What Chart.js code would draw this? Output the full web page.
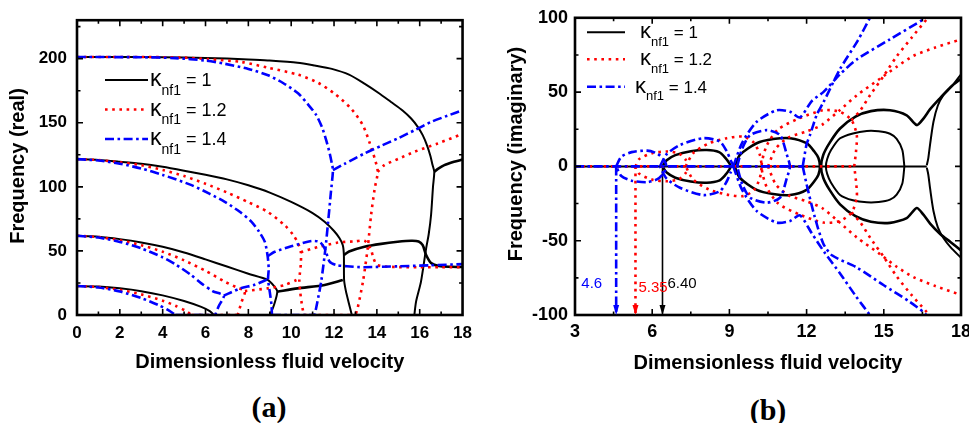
<!DOCTYPE html>
<html>
<head>
<meta charset="utf-8">
<title>Frequency vs fluid velocity</title>
<script src="https://cdn.jsdelivr.net/npm/chart.js@4.4.0/dist/chart.umd.min.js"></script>
<style>
  html, body { margin: 0; padding: 0; background: #fff; }
  #wrap { position: relative; width: 969px; height: 423px; overflow: hidden; }
  canvas { position: absolute; top: 0; }
  #chartA { left: 0; }
  #chartB { left: 490px; }
  .cap { position: absolute; transform: translate(-50%, -50%);
         font: bold 30px "Liberation Serif", "Times New Roman", serif; color: #000; }
</style>
</head>
<body>
<div id="wrap">
  <canvas id="chartA" width="480" height="380"></canvas>
  <canvas id="chartB" width="489" height="380"></canvas>
  <div class="cap" style="left:269px; top:407px;">(a)</div>
  <div class="cap" style="left:768px; top:410px;">(b)</div>
</div>
<script>
// ---------- legend ----------
const legendKappa = ['1', '1.2', '1.4'];

// ---------- panel (a): real part, [velocity, frequency] ----------
const aBlackMode1 = [[0,22.6],[1,22.2],[2,20.8],[3,18.6],[4,15.3],[5,10.9],[5.8,6.3],[6.2,3],[6.4,0]];
const aBlackMode2 = [[0,61.8],[1,61.1],[2,59.2],[3,56.6],[4,53.2],[5,48.8],[6,43.4],[7,37.8],[8,32.2],[8.9,27.4],[9.2,22.5],[9.35,18.2],[9.22,9],[9.02,0]];
const aBlackCouple = [[9.35,18.2],[10.3,20.8],[11.56,23.4],[12.41,27.3]];
const aBlackMode3 = [[0,121.6],[1,121],[2,119.6],[3,118],[4,115.6],[5,112.6],[6,109.4],[7,105.8],[8,101.2],[9,95.5],[10,88.2],[11,79.5],[11.56,72.7],[12.0,65.5],[12.25,60],[12.41,54.5],[12.46,46.8],[12.47,27.3],[12.55,19],[12.68,10],[12.83,0]];
const aBlackHump = [[12.46,46.8],[12.7,49.5],[13.42,53.2],[14.2,55.5],[14.97,57.1],[15.6,57.9],[15.95,57.4],[16.14,54.5],[16.3,46.8],[16.53,40.6],[16.9,38.2],[17.5,37.6],[18,37.4]];
const aBlackMode4 = [[0,201.3],[2,201.3],[4,201.1],[6,200.6],[7,200.1],[8,199.4],[8.9,198.6],[10.3,196.8],[11.1,194.6],[11.9,192],[12.7,187.5],[13.42,180.5],[14.1,173],[14.66,166.2],[15.2,159.6],[15.6,153.3],[15.9,147],[16.14,140.3],[16.35,132],[16.5,124],[16.6,117],[16.68,111.7],[16.62,100],[16.53,78],[16.42,63],[16.3,52],[16.06,26],[15.83,10.4],[15.75,0]];
const aBlackRise = [[16.68,111.7],[16.85,114],[17.15,116.9],[17.6,119.5],[18,121.3]];

const aRedMode1 = [[0,22.6],[1,21.8],[2,19.6],[3,16.1],[4,11.2],[4.6,7.2],[5.05,3.5],[5.35,0]];
const aRedZero1 = [[5.35,0],[7.5,0]];
const aRedZero2 = [[10.6,0],[13.0,0]];
const aRedMode2 = [[0,61.8],[1,60.8],[2,58.3],[3,54.5],[4,49.4],[5,42.6],[6,34.5],[6.9,26],[7.5,21.2],[7.84,18.7],[7.68,10],[7.5,0]];
const aRedCouple = [[7.84,18.7],[8.9,20.8],[9.7,23.4],[10.25,27.3]];
const aRedMode3 = [[0,121.6],[1,120.9],[2,119.2],[3,116.9],[4,113.2],[5,108.4],[6,102.4],[7,95.6],[8,88],[8.9,80.5],[9.7,70],[10.1,62.3],[10.32,56],[10.45,49],[10.45,40],[10.38,27.3],[10.42,18],[10.52,6],[10.6,0]];
const aRedHump = [[10.45,49],[11.25,53],[12.18,56.5],[13.0,57.5],[13.42,58],[13.7,52],[13.85,44],[14.0,39.2],[14.4,37.8],[15,37.4],[16,37.3],[17,37.3],[18,37.4]];
const aRedMode4 = [[0,201.3],[3,201.3],[5,200.8],[6.1,199.6],[7.68,197.4],[8.9,193],[10.32,187.5],[11.25,181.2],[12.02,172.7],[12.8,161],[13.35,148],[13.65,135],[13.9,122],[14.04,111.7],[13.9,98.7],[13.73,78],[13.57,52],[13.35,26],[13.1,5.2],[13.0,0]];
const aRedRise = [[14.04,111.7],[14.35,116.9],[15.0,121.8],[15.75,127.3],[16.84,133.8],[18,141.3]];

const aBlueMode1 = [[0,22.6],[1,21.5],[2,18.4],[3,13.2],[3.8,7.8],[4.3,3.4],[4.6,0]];
const aBlueZero1 = [[4.6,0],[6.45,0]];
const aBlueZero2 = [[9.1,0],[11.1,0]];
const aBlueMode2 = [[0,61.8],[1,60.4],[2,57],[3,52],[4,45],[4.6,39.5],[5.3,31.5],[5.82,24.5],[6.35,18.5],[6.85,15],[6.62,7],[6.45,0]];
const aBlueCouple = [[6.85,15],[7.6,20.6],[8.3,23.6],[8.92,28]];
const aBlueMode3 = [[0,121.6],[1,120.5],[2,118],[3,114.3],[4,109.3],[5.35,101.3],[6.2,94.5],[6.9,88.3],[7.6,80.5],[8.15,72.7],[8.5,65],[8.77,57],[8.9,46],[8.95,36],[8.92,28],[9.0,18],[9.08,8],[9.1,0]];
const aBlueHump = [[8.92,46],[9.23,49.3],[10,53.6],[10.94,57.7],[11.33,57],[11.56,52],[11.8,41.5],[12.1,39],[12.6,38],[13.4,37.3],[15,38],[16.5,38.8],[18,39.7]];
const aBlueMode4 = [[0,201.3],[3,201.1],[4.58,200.4],[6,198.5],[6.9,196],[8,192],[8.92,187],[9.62,181],[10.32,173],[10.8,164],[11.17,156],[11.45,146],[11.64,136],[11.8,126],[11.9,118],[11.95,113],[11.85,95],[11.72,72],[11.6,52],[11.4,26],[11.22,10],[11.1,0]];
const aBlueRise = [[11.95,113],[12.5,118],[13.42,126],[14.2,132],[14.97,137.7],[15.8,144.5],[16.53,150.6],[17.3,155.5],[18,159.7]];

// ---------- panel (b): imaginary part, [velocity, frequency] ----------
const bBlackZero = [[3,0],[16.67,0]];
const bBlackLoop1 = [[6.4,0],[6.55,4],[6.9,7.6],[7.5,10.2],[8.12,11],[8.6,9.6],[8.85,5.6],[9.0,2],[9.05,0],[9.0,-2],[8.85,-5.6],[8.6,-9.6],[8.12,-11],[7.5,-10.2],[6.9,-7.6],[6.55,-4],[6.4,0]];
const bBlackLoop2 = [[9.2,0],[9.41,7.8],[10.06,15.6],[10.7,18.4],[11.36,19],[12.0,15.6],[12.3,10],[12.46,5.6],[12.52,0],[12.46,-5.6],[12.3,-10],[12.0,-15.8],[11.36,-19.3],[10.7,-18.6],[10.06,-15.8],[9.41,-7.8],[9.2,0]];
const bBlackOuter = [[18,59],[17.6,53.5],[17.19,46],[16.8,38.5],[16.54,32.2],[16.28,27.8],[15.89,34.4],[15.24,37.8],[14.5,37.2],[13.9,33.5],[13.3,25.5],[12.9,16],[12.65,7.8],[12.56,0],[12.65,-7.8],[12.9,-16],[13.3,-25.5],[13.9,-33.5],[14.5,-37.2],[15.24,-38],[15.89,-34.8],[16.28,-28],[16.54,-32.5],[16.8,-38.5],[17.19,-45.5],[17.6,-51],[18,-56.5]];
const bBlackInner = [[15.8,0],[15.72,11],[15.5,18.5],[15.24,22],[14.8,23.6],[14.34,23.8],[13.8,22.2],[13.3,18.9],[12.95,11],[12.8,5],[12.75,0],[12.8,-5],[12.95,-11],[13.3,-19.2],[13.8,-22.8],[14.34,-24.2],[14.8,-24],[15.24,-22.4],[15.5,-19],[15.72,-11.5],[15.8,0]];
const bBlackRiseUp = [[16.67,0.8],[16.73,5.6],[16.8,15],[16.93,30],[17.1,41],[17.31,47.8],[17.6,53],[18,62]];
const bBlackRiseDown = [[16.67,-0.8],[16.73,-5.6],[16.8,-15],[16.93,-30],[17.1,-41],[17.31,-48],[17.6,-54.5],[18,-61.5]];

const bRedZero = [[3,0],[13.85,0]];
const bRedLoop1 = [[5.35,0],[5.5,5],[6.0,8.9],[6.6,10],[7.05,8.6],[7.3,4.5],[7.4,0],[7.3,-4.5],[7.05,-8.6],[6.6,-10],[6.0,-8.9],[5.5,-5],[5.35,0]];
const bRedLoop2 = [[7.3,0],[7.6,9],[8.2,15.5],[8.9,19],[9.54,20],[9.95,16],[10.18,8],[10.25,0],[10.18,-8],[9.95,-16],[9.54,-20],[8.9,-19],[8.2,-15.5],[7.6,-9],[7.3,0]];
const bRedOuter = [[13.85,0],[13.92,10],[13.95,21],[13.75,31],[13.3,36.7],[12.65,37.8],[11.74,32.5],[10.9,25],[10.45,14],[10.25,0],[10.45,-14],[10.9,-25],[11.74,-32.5],[12.65,-37.8],[13.3,-36.7],[13.75,-31],[13.95,-21],[13.92,-10],[13.85,0]];
const bRedRiseUp = [[13.75,31],[14.1,38],[14.47,48],[15.0,61],[15.5,74],[16.1,87],[16.67,99],[16.75,100]];
const bRedRiseDown = [[13.75,-31],[14.1,-38],[14.47,-48],[15.0,-61],[15.5,-74],[16.1,-87],[16.67,-98],[16.75,-100]];
const bRedInnerUp = [[10.5,0],[10.8,12],[11.3,19.5],[12.0,23.5],[12.6,28],[13.3,38],[13.95,47.8],[14.85,59],[15.5,67],[16.15,74.4],[17,80],[18,85.5]];
const bRedInnerDown = [[10.5,0],[10.8,-12],[11.3,-19.5],[12.0,-23.5],[12.6,-28],[13.3,-38],[13.95,-47.8],[14.85,-59],[15.5,-67.5],[16.15,-74.5],[17,-80.5],[18,-86.5]];

const bBlueZero = [[3,0],[11.85,0]];
const bBlueLoop1 = [[4.6,0],[4.8,6.5],[5.2,9.6],[5.8,10.6],[6.2,8.6],[6.45,4.5],[6.55,0],[6.45,-4.5],[6.2,-8.6],[5.8,-10.6],[5.2,-9.6],[4.8,-6.5],[4.6,0]];
const bBlueLoop2 = [[6.3,0],[6.55,8],[7.08,14.4],[7.99,19],[8.63,16.7],[8.9,10],[9.05,4],[9.15,0],[9.05,-4],[8.9,-10],[8.63,-16.7],[7.99,-19.3],[7.08,-14.4],[6.55,-8],[6.3,0]];
const bBlueInner = [[9.3,0],[9.5,12],[9.8,21],[10.45,24.4],[10.97,21],[11.23,8],[11.35,0],[11.23,-8],[10.97,-21],[10.45,-24.4],[9.8,-21],[9.5,-12],[9.3,0]];
const bBlueOuterUp = [[9.15,0],[9.5,16],[10.06,30],[10.84,37.8],[11.36,36.7],[11.74,33],[12.2,44],[12.65,50],[13.3,62],[13.95,72],[15.24,85.5],[16.54,99],[16.6,100]];
const bBlueOuterDown = [[9.15,0],[9.5,-16],[10.06,-30],[10.84,-37.8],[11.36,-36.7],[11.74,-33],[12.2,-45],[12.7,-58],[13.3,-72],[13.9,-87],[14.46,-100]];
const bBlueRiseUp = [[11.85,0],[12.0,15],[12.13,21],[12.4,35],[12.65,43],[13.3,65.5],[14.0,85],[14.46,100]];
const bBlueRiseDown = [[11.85,0],[12.0,-12],[12.3,-33],[12.65,-52],[13.0,-60],[13.95,-68],[15.0,-80],[16.0,-91],[16.54,-98],[16.65,-100]];

// critical (divergence) velocities marked with arrows in panel (b)
const critValues = [4.6, 5.35, 6.40];
const critLabels = ['4.6', '5.35', '6.40'];

// ---------- styles ----------
const FONT = '"Liberation Sans", Arial, sans-serif';
Chart.defaults.font.family = FONT;
Chart.defaults.color = '#000';

const BLACK = { borderColor: '#000000', borderWidth: 2 };
const BLACK_THICK = { borderColor: '#000000', borderWidth: 2.6 };
const RED = { borderColor: '#ff0000', borderWidth: 2.6, borderDash: [2.6, 4.6] };
const BLUE = { borderColor: '#0000ff', borderWidth: 2.6, borderDash: [9, 3.5, 2.6, 3.5] };
const legendStyles = [BLACK, RED, BLUE];

function line(points, style, tension) {
  return Object.assign({
    data: points.map(p => ({ x: p[0], y: p[1] })),
    showLine: true, pointRadius: 0, pointHoverRadius: 0, fill: false,
    tension: tension === undefined ? 0.25 : tension
  }, style);
}

// ---------- plugins ----------
// inward tick marks on all four sides plus the heavy frame
const framePlugin = {
  id: 'frame',
  afterDatasetsDraw(chart, args, o) {
    const { ctx, chartArea: a } = chart;
    const xs = chart.scales.x, ys = chart.scales.y;
    const major = (v, step) => Math.abs(v / step - Math.round(v / step)) < 1e-6;
    ctx.save();
    ctx.setLineDash([]);
    ctx.strokeStyle = '#000';
    ctx.lineWidth = 1.6;
    ctx.beginPath();
    for (let v = xs.min + o.xMinor; v < xs.max - 1e-9; v += o.xMinor) {
      const px = xs.getPixelForValue(v);
      const len = major(v, o.xMajor) ? 6 : 3.5;
      ctx.moveTo(px, a.bottom); ctx.lineTo(px, a.bottom - len);
      ctx.moveTo(px, a.top); ctx.lineTo(px, a.top + len);
    }
    for (let v = ys.min + o.yMinor; v < ys.max - 1e-9; v += o.yMinor) {
      const py = ys.getPixelForValue(v);
      const len = major(v, o.yMajor) ? 6 : 3.5;
      ctx.moveTo(a.left, py); ctx.lineTo(a.left + len, py);
      ctx.moveTo(a.right, py); ctx.lineTo(a.right - len, py);
    }
    ctx.stroke();
    ctx.lineWidth = 2.6;
    ctx.strokeRect(a.left, a.top, a.right - a.left, a.bottom - a.top);
    ctx.restore();
  }
};

// legend with subscripted kappa labels
const kappaLegend = {
  id: 'kappaLegend',
  afterDraw(chart, args, o) {
    const ctx = chart.ctx;
    ctx.save();
    legendStyles.forEach((st, i) => {
      const y = o.rowY[i];
      ctx.beginPath();
      ctx.strokeStyle = st.borderColor;
      ctx.lineWidth = st.borderWidth;
      ctx.setLineDash(st.borderDash || []);
      ctx.moveTo(o.lineX0, y);
      ctx.lineTo(o.lineX1, y);
      ctx.stroke();
      ctx.setLineDash([]);
      ctx.fillStyle = '#000';
      ctx.textAlign = 'left';
      ctx.textBaseline = 'alphabetic';
      let x = o.textX + o.shift[i];
      const base = y + o.size * 0.36;
      ctx.font = Math.round(o.size * 1.3) + 'px ' + FONT;
      ctx.fillText('κ', x, base);
      x += ctx.measureText('κ').width;
      ctx.font = Math.round(o.size * 0.75) + 'px ' + FONT;
      ctx.fillText('nf1', x, base + o.size * 0.45);
      x += ctx.measureText('nf1').width;
      ctx.font = o.size + 'px ' + FONT;
      ctx.fillText(' = ' + legendKappa[i], x, base);
    });
    ctx.restore();
  }
};

// rotated y-axis title
const sideTitle = {
  id: 'sideTitle',
  afterDraw(chart, args, o) {
    const ctx = chart.ctx;
    ctx.save();
    ctx.translate(o.x, o.y);
    ctx.rotate(-Math.PI / 2);
    ctx.font = 'bold 20px ' + FONT;
    ctx.fillStyle = '#000';
    ctx.textAlign = 'center';
    ctx.textBaseline = 'middle';
    ctx.fillText(o.text, 0, 0);
    ctx.restore();
  }
};

// arrowheads and value labels for the critical velocities
const critMarks = {
  id: 'critMarks',
  afterDatasetsDraw(chart, args, o) {
    const { ctx } = chart;
    const xs = chart.scales.x, ys = chart.scales.y;
    ctx.save();
    ctx.setLineDash([]);
    critValues.forEach((v, i) => {
      const px = xs.getPixelForValue(v);
      const tip = ys.getPixelForValue(ys.min);
      ctx.fillStyle = o.colors[i];
      ctx.beginPath();
      ctx.moveTo(px - 3, tip - 10);
      ctx.lineTo(px + 3, tip - 10);
      ctx.lineTo(px, tip);
      ctx.closePath();
      ctx.fill();
      ctx.font = '15px ' + FONT;
      ctx.textBaseline = 'middle';
      ctx.textAlign = o.align[i];
      ctx.fillText(critLabels[i], px + o.dx[i], ys.getPixelForValue(o.labelY[i]));
    });
    ctx.restore();
  }
};

function makeChart(id, c) {
  return new Chart(document.getElementById(id), {
    type: 'scatter',
    data: { datasets: c.datasets },
    options: {
      responsive: false,
      animation: false,
      events: [],
      layout: { padding: c.padding },
      plugins: {
        legend: { display: false },
        tooltip: { enabled: false },
        frame: c.frame,
        kappaLegend: c.legend,
        sideTitle: c.sideTitle,
        critMarks: c.crit
      },
      scales: {
        x: {
          type: 'linear', min: c.xMin, max: c.xMax,
          afterFit: s => { s.height = c.xHeight; },
          grid: { display: false, drawTicks: false },
          border: { display: false },
          ticks: { stepSize: c.xStep, padding: c.xPad, maxRotation: 0, autoSkip: false,
                   includeBounds: false, color: '#000',
                   font: { size: c.tickSize, weight: 'bold' } },
          title: { display: true, text: 'Dimensionless fluid velocity', color: '#000',
                   font: { size: 20, weight: 'bold' }, padding: { top: 0, bottom: c.titlePad } }
        },
        y: {
          type: 'linear', min: c.yMin, max: c.yMax,
          afterFit: s => { s.width = c.yWidth; },
          grid: { display: false, drawTicks: false },
          border: { display: false },
          ticks: { stepSize: 50, padding: c.yPad, includeBounds: false, color: '#000',
                   font: { size: c.tickSize, weight: 'bold' } }
        }
      }
    },
    plugins: [framePlugin, critMarks, kappaLegend, sideTitle]
  });
}

// ---------- panel (a) ----------
makeChart('chartA', {
  datasets: [
    line(aBlueMode4, BLUE), line(aBlueRise, BLUE), line(aBlueMode3, BLUE), line(aBlueHump, BLUE),
    line(aBlueMode2, BLUE), line(aBlueCouple, BLUE), line(aBlueMode1, BLUE),
    line(aBlueZero1, BLUE, 0), line(aBlueZero2, BLUE, 0),
    line(aRedMode4, RED), line(aRedRise, RED), line(aRedMode3, RED), line(aRedHump, RED),
    line(aRedMode2, RED), line(aRedCouple, RED), line(aRedMode1, RED),
    line(aRedZero1, RED, 0), line(aRedZero2, RED, 0),
    line(aBlackMode4, BLACK), line(aBlackRise, BLACK_THICK), line(aBlackMode3, BLACK), line(aBlackHump, BLACK_THICK),
    line(aBlackMode2, BLACK), line(aBlackCouple, BLACK_THICK), line(aBlackMode1, BLACK)
  ],
  padding: { top: 19, right: 17, left: 0, bottom: 0 },
  xMin: 0, xMax: 18, xStep: 2, yMin: 0, yMax: 230,
  xHeight: 65, yWidth: 77, xPad: 8, yPad: 10, tickSize: 17, titlePad: 6,
  frame: { xMinor: 1, xMajor: 2, yMinor: 25, yMajor: 50 },
  legend: { rowY: [80, 109.5, 139], lineX0: 105, lineX1: 148, textX: 150, shift: [0, 0, 0], size: 18 },
  sideTitle: { text: 'Frequency (real)', x: 18, y: 166 },
  crit: false
});

// ---------- panel (b) ----------
makeChart('chartB', {
  datasets: [
    line(bBlueZero, BLUE, 0), line(bBlueLoop1, BLUE), line(bBlueLoop2, BLUE), line(bBlueInner, BLUE),
    line(bBlueOuterUp, BLUE), line(bBlueOuterDown, BLUE), line(bBlueRiseUp, BLUE), line(bBlueRiseDown, BLUE),
    line([[critValues[0], 0], [critValues[0], -100]], BLUE, 0),
    line(bRedZero, RED, 0), line(bRedLoop1, RED), line(bRedLoop2, RED), line(bRedOuter, RED),
    line(bRedRiseUp, RED), line(bRedRiseDown, RED), line(bRedInnerUp, RED), line(bRedInnerDown, RED),
    line([[critValues[1], 0], [critValues[1], -100]], RED, 0),
    line(bBlackZero, BLACK, 0), line(bBlackLoop1, BLACK_THICK), line(bBlackLoop2, BLACK_THICK),
    line(bBlackOuter, BLACK_THICK), line(bBlackInner, BLACK),
    line(bBlackRiseUp, BLACK), line(bBlackRiseDown, BLACK),
    line([[critValues[2], 0], [critValues[2], -100]], { borderColor: '#000', borderWidth: 1.6 }, 0)
  ],
  padding: { top: 15, right: 18, left: 0, bottom: 0 },
  xMin: 3, xMax: 18, xStep: 3, yMin: -100, yMax: 100,
  xHeight: 65, yWidth: 85, xPad: 6.5, yPad: 7, tickSize: 18, titlePad: 5,
  frame: { xMinor: 1.5, xMajor: 3, yMinor: 25, yMajor: 50 },
  legend: { rowY: [32.3, 59.3, 86.7], lineX0: 97, lineX1: 135, textX: 150, shift: [0, 0, -5], size: 17 },
  sideTitle: { text: 'Frequency (imaginary)', x: 26, y: 154 },
  crit: { colors: ['#0000ff', '#ff0000', '#000000'], align: ['right', 'left', 'left'],
          dx: [-14, 3, 5], labelY: [-79, -82, -79] }
});
</script>
</body>
</html>
